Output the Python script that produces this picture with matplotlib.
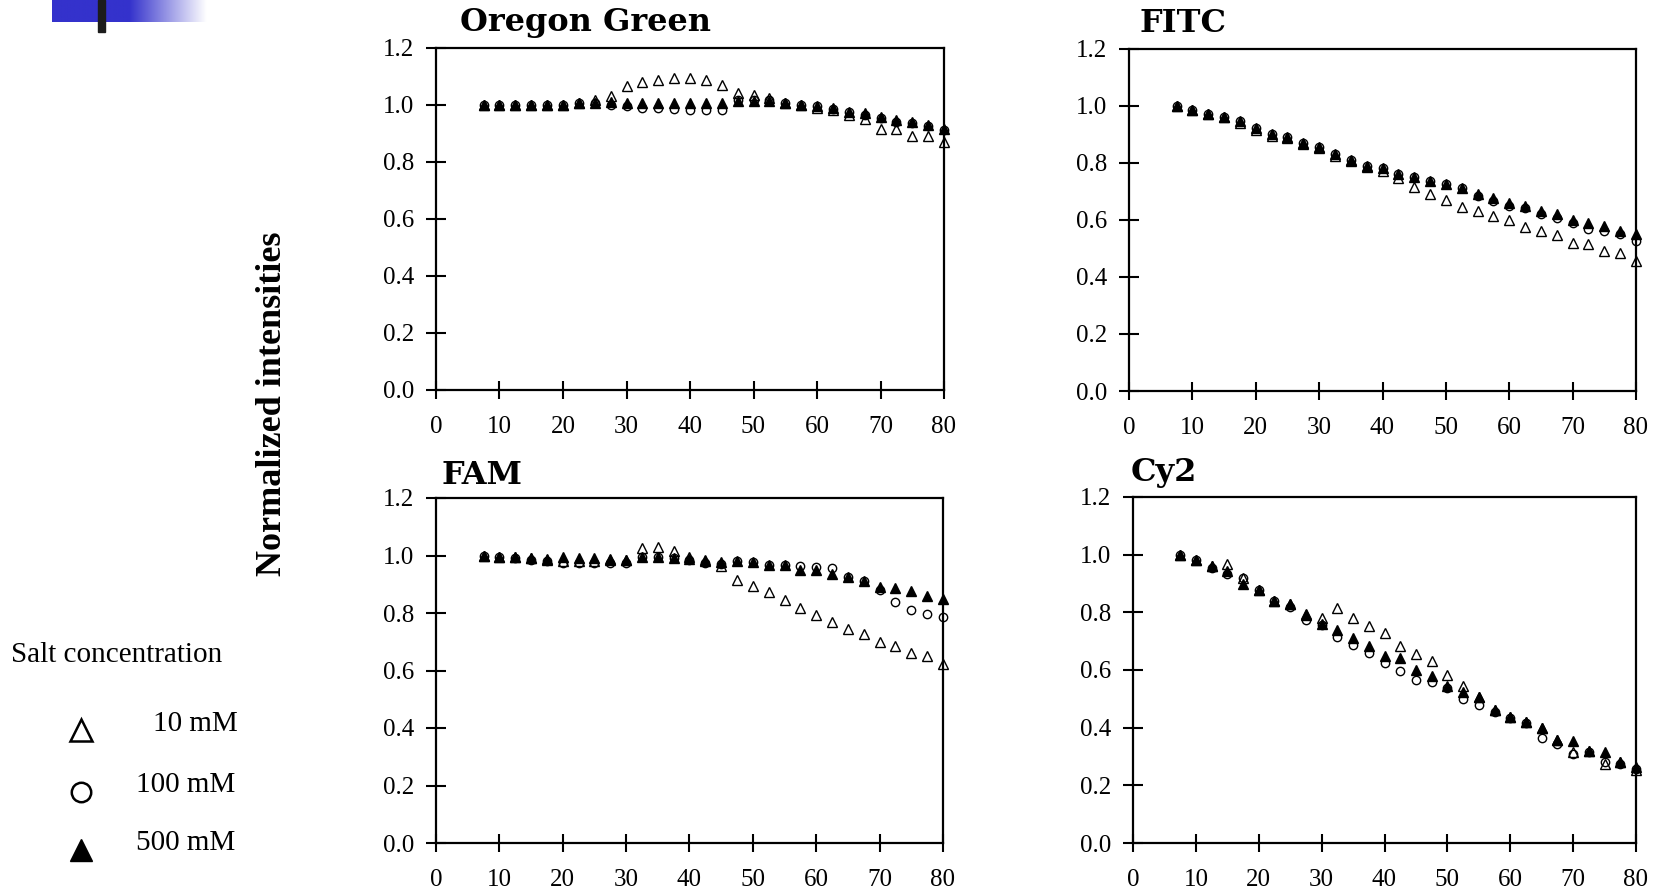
import numpy as np
import matplotlib
matplotlib.use('Agg')
import matplotlib.pyplot as plt

# time points (same for all panels)
x_time = [7.5, 10, 12.5, 15, 17.5, 20, 22.5, 25, 27.5, 30, 32.5, 35, 37.5, 40, 42.5,
          45, 47.5, 50, 52.5, 55, 57.5, 60, 62.5, 65, 67.5, 70, 72.5, 75, 77.5, 80]

# Oregon Green
og_10 = [1.00, 1.00, 1.00, 1.00, 1.00, 1.00, 1.005, 1.015, 1.03, 1.065, 1.08, 1.085, 1.095, 1.095, 1.085,
         1.07, 1.04, 1.035, 1.025, 1.005, 1.00, 0.99, 0.98, 0.965, 0.95, 0.915, 0.915, 0.89, 0.89, 0.87]
og_100 = [1.00, 1.00, 1.00, 1.00, 1.00, 1.00, 1.005, 1.005, 1.00, 0.995, 0.99, 0.99, 0.985, 0.98, 0.98,
          0.98, 1.015, 1.015, 1.015, 1.005, 1.00, 0.995, 0.985, 0.975, 0.965, 0.955, 0.94, 0.935, 0.925, 0.91]
og_500 = [1.00, 1.00, 1.00, 1.00, 1.00, 1.00, 1.005, 1.005, 1.01, 1.005, 1.005, 1.005, 1.005, 1.005, 1.005,
          1.005, 1.012, 1.012, 1.012, 1.006, 1.00, 0.994, 0.988, 0.976, 0.97, 0.958, 0.945, 0.94, 0.927, 0.915]

# FITC
fitc_10 = [1.00, 0.985, 0.97, 0.96, 0.94, 0.915, 0.895, 0.885, 0.865, 0.85, 0.825, 0.805, 0.785, 0.77, 0.745,
           0.716, 0.69, 0.67, 0.645, 0.63, 0.615, 0.60, 0.575, 0.56, 0.545, 0.52, 0.515, 0.49, 0.485, 0.455]
fitc_100 = [1.00, 0.985, 0.97, 0.96, 0.945, 0.92, 0.90, 0.89, 0.87, 0.855, 0.83, 0.81, 0.79, 0.78, 0.76,
            0.75, 0.735, 0.725, 0.71, 0.685, 0.665, 0.65, 0.64, 0.62, 0.605, 0.59, 0.567, 0.56, 0.55, 0.527]
fitc_500 = [1.00, 0.985, 0.97, 0.96, 0.945, 0.92, 0.90, 0.89, 0.87, 0.855, 0.83, 0.81, 0.79, 0.78, 0.76,
            0.75, 0.735, 0.725, 0.71, 0.69, 0.675, 0.66, 0.65, 0.63, 0.62, 0.60, 0.59, 0.58, 0.56, 0.55]

# FAM
fam_10 = [1.00, 0.996, 0.995, 0.99, 0.985, 0.98, 0.98, 0.98, 0.985, 0.985, 1.026, 1.03, 1.016, 0.995, 0.985,
          0.965, 0.915, 0.895, 0.872, 0.845, 0.818, 0.792, 0.77, 0.746, 0.728, 0.70, 0.685, 0.66, 0.652, 0.623]
fam_100 = [1.00, 0.996, 0.99, 0.985, 0.98, 0.975, 0.975, 0.975, 0.975, 0.975, 0.995, 0.996, 0.993, 0.985, 0.975,
           0.97, 0.98, 0.977, 0.967, 0.967, 0.965, 0.96, 0.955, 0.926, 0.91, 0.88, 0.84, 0.81, 0.795, 0.786]
fam_500 = [1.00, 0.996, 0.996, 0.993, 0.988, 0.995, 0.993, 0.993, 0.988, 0.985, 0.996, 0.996, 0.993, 0.988, 0.98,
           0.977, 0.98, 0.977, 0.967, 0.967, 0.95, 0.95, 0.935, 0.926, 0.91, 0.89, 0.888, 0.876, 0.86, 0.848]

# Cy2
cy2_10 = [1.00, 0.98, 0.96, 0.967, 0.92, 0.877, 0.84, 0.83, 0.79, 0.78, 0.816, 0.78, 0.752, 0.73, 0.683,
          0.656, 0.63, 0.584, 0.546, 0.508, 0.46, 0.438, 0.42, 0.40, 0.357, 0.316, 0.32, 0.275, 0.28, 0.252]
cy2_100 = [1.00, 0.98, 0.955, 0.933, 0.92, 0.877, 0.84, 0.82, 0.775, 0.755, 0.714, 0.688, 0.66, 0.625, 0.595,
           0.566, 0.56, 0.537, 0.50, 0.48, 0.455, 0.435, 0.415, 0.365, 0.345, 0.31, 0.315, 0.28, 0.275, 0.258]
cy2_500 = [1.00, 0.98, 0.96, 0.944, 0.90, 0.877, 0.84, 0.83, 0.793, 0.758, 0.74, 0.71, 0.683, 0.65, 0.64,
           0.60, 0.578, 0.543, 0.525, 0.508, 0.46, 0.438, 0.42, 0.40, 0.357, 0.353, 0.32, 0.316, 0.28, 0.264]

panel_names = ['Oregon Green', 'FITC', 'FAM', 'Cy2']
panel_data = [(og_10, og_100, og_500), (fitc_10, fitc_100, fitc_500),
              (fam_10, fam_100, fam_500), (cy2_10, cy2_100, cy2_500)]
salt_labels = ['10 mM', '100 mM', '500 mM']

W, H = 1658, 889
serif = ['Liberation Serif', 'DejaVu Serif']
plt.rcParams['font.family'] = serif


def px_rect(left, top, right, bottom):
    return [left / W, 1 - bottom / H, (right - left) / W, (bottom - top) / H]


def main():
    fig = plt.figure(figsize=(W / 100, H / 100), dpi=100)

    # overlay in pixel coords for decoration + legend
    bg = fig.add_axes([0, 0, 1, 1])
    bg.set_xlim(0, W)
    bg.set_ylim(H, 0)
    bg.axis('off')
    grad = np.ones((2, 200, 3))
    t = np.linspace(0, 1, 200)
    fade = np.clip((t - 0.5) / 0.5, 0, 1)
    blue = np.array([52, 50, 204]) / 255.0
    for c in range(3):
        grad[:, :, c] = blue[c] * (1 - fade) + fade
    bg.imshow(grad, extent=[52, 207, 22, 0], aspect='auto')
    bg.add_patch(plt.Rectangle((98, 0), 7, 32, color='#1c1c1c'))

    bg.text(11, 655, 'Salt concentration', fontsize=21, va='center', ha='left')
    bg.plot(81, 730, marker='^', ms=16, mfc='none', mec='black', mew=1.8)
    bg.plot(81, 792, marker='o', ms=14, mfc='none', mec='black', mew=1.8)
    bg.plot(81, 850, marker='^', ms=16, mfc='black', mec='black')
    for lab, xx, yy in zip(salt_labels, [238, 235, 235], [724, 785, 843]):
        bg.text(xx, yy, lab, fontsize=21, va='center', ha='right')

    rects = [px_rect(436, 47.6, 944, 390), px_rect(1129, 48.6, 1636, 391),
             px_rect(436, 498, 943, 843), px_rect(1133, 497, 1636, 843)]
    title_pos = [(460, 22), (1140, 24), (442, 476), (1131, 473)]

    for rect, name, (y10, y100, y500), (tx, ty) in zip(rects, panel_names, panel_data, title_pos):
        ax = fig.add_axes(rect)
        ax.plot(x_time, y10, ls='none', marker='^', ms=6.5, mfc='none', mec='black', mew=1.0, clip_on=False)
        ax.plot(x_time, y100, ls='none', marker='o', ms=6, mfc='none', mec='black', mew=1.0, clip_on=False)
        ax.plot(x_time, y500, ls='none', marker='^', ms=6.5, mfc='black', mec='black', clip_on=False)
        ax.set_xlim(0, 80)
        ax.set_ylim(0, 1.2)
        ax.set_xticks(range(0, 81, 10))
        ax.set_yticks(np.arange(0, 1.21, 0.2))
        ax.set_yticklabels(['%.1f' % v for v in np.arange(0, 1.21, 0.2)])
        ax.tick_params(axis='y', direction='inout', length=15, width=1.5, labelsize=18, pad=8)
        ax.tick_params(axis='x', direction='inout', length=13, width=1.5, labelsize=18, pad=12)
        for sp in ax.spines.values():
            sp.set_linewidth(1.6)
        bg.text(tx, ty, name, fontsize=23, fontweight='bold', family=['DejaVu Serif'],
                va='center', ha='left')

    fig.text(273 / W, 1 - 404 / H, 'Normalized intensities', rotation=90, fontsize=26,
             fontweight='bold', va='center', ha='center')

    fig.savefig('out.png', dpi=100)


if __name__ == '__main__':
    main()
